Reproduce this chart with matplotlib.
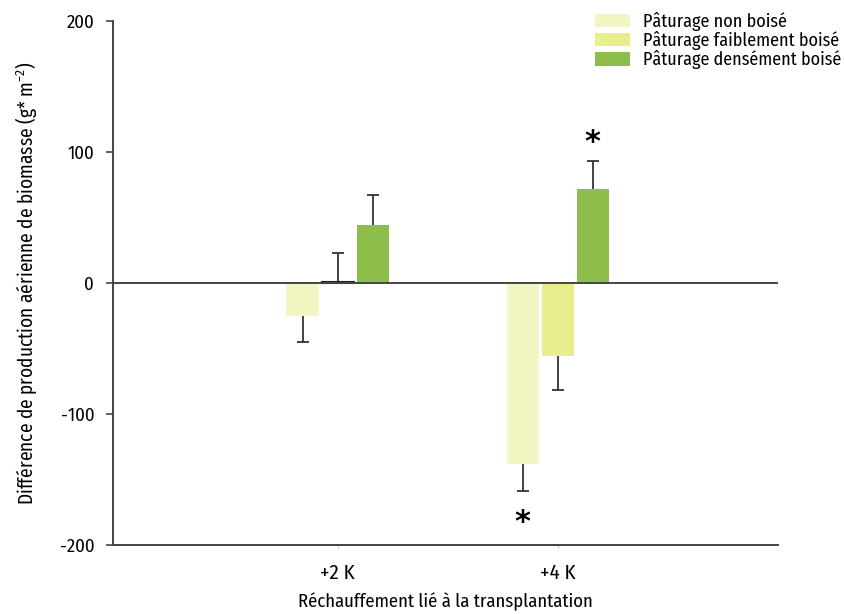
import matplotlib.pyplot as plt
import numpy as np
from matplotlib import font_manager

# data
categories = ["+2 K", "+4 K"]
series = ["Pâturage non boisé", "Pâturage faiblement boisé", "Pâturage densément boisé"]
values_non = [-25, -138]
values_faible = [1, -56]
values_dense = [44, 72]
err_non = [20, 21]
err_faible = [22, 26]
err_dense = [23, 21]
# significance markers: (category index, series index, y value)
stars = [(1, 0, -183), (1, 2, 107)]

colors = ["#f3f6c3", "#e7ee8b", "#8dbd4b"]

installed = {f.name for f in font_manager.fontManager.ttflist}
family, scale = "Open Sans", 0.85
for cand in ["Fira Sans Condensed", "PT Sans Narrow", "Open Sans Condensed"]:
    if cand in installed:
        family, scale = cand, 1.0
        break
plt.rcParams["font.family"] = [family, "DejaVu Sans"]
plt.rcParams["mathtext.fontset"] = "custom"
plt.rcParams["mathtext.rm"] = family


def main():
    fig = plt.figure(figsize=(8.45, 6.14), dpi=100)
    ax = fig.add_axes([0.1337, 0.1124, 0.7870, 0.8534])

    x = np.arange(len(categories))
    offset = 0.159
    width = 0.146
    all_vals = [values_non, values_faible, values_dense]
    all_errs = [err_non, err_faible, err_dense]

    for i, (vals, errs) in enumerate(zip(all_vals, all_errs)):
        pos = x + (i - 1) * offset
        vals = np.array(vals)
        errs = np.array(errs)
        ends = vals + np.sign(vals) * errs
        ax.bar(pos, vals, width=width, color=colors[i], label=series[i], zorder=2)
        # one-sided error bars, away from zero
        ax.vlines(pos, vals, ends, color="#333333", linewidth=1.3, zorder=3)
        ax.plot(pos, ends, ls="none", marker="_", markersize=9, markeredgewidth=1.3,
                color="#333333", zorder=3)

    # small value that sits on the zero line
    ax.bar(x[0], values_faible[0], width=width, color="none", edgecolor="#222222",
           linewidth=1.5, zorder=4)

    ax.axhline(0, color="#444444", linewidth=1.4, zorder=4)

    for ci, si, yv in stars:
        ax.text(x[ci] + (si - 1) * offset, yv, "*", ha="center", va="center",
                fontsize=22, fontweight="bold", family="DejaVu Sans")

    ax.set_xlim(-1.02, 2.0)
    ax.set_ylim(-200, 200)
    ax.set_yticks([-200, -100, 0, 100, 200])
    ax.set_yticklabels(["-200", "-100", "0", "100", "200"])
    ax.set_xticks(x)
    ax.set_xticklabels(categories)

    for side in ["top", "right"]:
        ax.spines[side].set_visible(False)
    for side in ["left", "bottom"]:
        ax.spines[side].set_color("#444444")
        ax.spines[side].set_linewidth(1.4)
    ax.tick_params(axis="y", length=5, width=1.2, color="#444444", labelsize=13.5 * scale, pad=8.5)
    ax.tick_params(axis="x", length=2, width=0.6, color="#bbbbbb", labelsize=15 * scale, pad=11)

    ax.set_xlabel("Réchauffement lié à la transplantation", fontsize=13.4 * scale, labelpad=7)
    ax.set_ylabel(r"Différence de production aérienne de biomasse (g* m$^{-2}$)",
                  fontsize=13.9 * scale, labelpad=15)

    ax.legend(loc="upper left", bbox_to_anchor=(0.711, 1.035), frameon=False,
              fontsize=13 * scale, handlelength=1.95, handleheight=0.75, handletextpad=0.72,
              labelspacing=0.02, borderpad=0)

    fig.savefig("out.png", dpi=100)


if __name__ == "__main__":
    main()
